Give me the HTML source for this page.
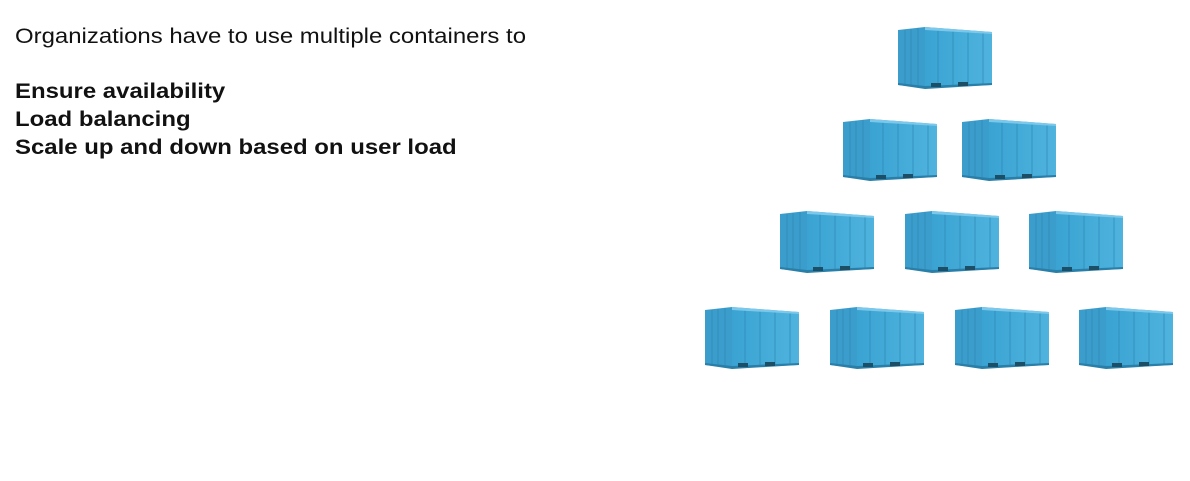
<!DOCTYPE html>
<html><head><meta charset="utf-8"><style>
body{margin:0;width:1190px;height:481px;background:#fff;overflow:hidden;position:relative;font-family:"Liberation Sans",Arial,sans-serif;color:#111}
.t{position:absolute;left:15px;font-size:21px;white-space:nowrap;transform:scaleX(1.14);transform-origin:0 0}
.b{font-weight:bold}
svg{position:absolute;left:0;top:0}
</style></head><body>
<div class="t" style="top:25px">Organizations have to use multiple containers to</div>
<div class="t b" style="top:80px">Ensure availability</div>
<div class="t b" style="top:108px">Load balancing</div>
<div class="t b" style="top:136px">Scale up and down based on user load</div>
<svg width="1190" height="481">
<defs>
<linearGradient id="s" x1="0" x2="1"><stop offset="0" stop-color="#3aa3d2"/><stop offset="1" stop-color="#4fb3de"/></linearGradient>
<g id="c">
<polygon points="0,3 27,0 27,61 0,58" fill="#3b9dcb"/>
<polygon points="27,0 94,5 94,58 27,61" fill="url(#s)"/>
<g stroke="#2c87b5" stroke-width="1" opacity="0.7">
<line x1="7" y1="3" x2="7" y2="57"/><line x1="13" y1="2" x2="13" y2="58"/><line x1="20" y1="1" x2="20" y2="59"/>
<line x1="40" y1="2" x2="40" y2="60"/><line x1="55" y1="3" x2="55" y2="59"/><line x1="70" y1="4" x2="70" y2="59"/><line x1="85" y1="5" x2="85" y2="58"/>
</g>
<polygon points="27,0 94,5 94,7 27,3" fill="#7cc8ea"/>
<polygon points="0,56 27,59 94,56 94,58 27,62 0,58" fill="#2a7fa8"/>
<rect x="33" y="56" width="10" height="4" fill="#1c4e66"/><rect x="60" y="55" width="10" height="4" fill="#1c4e66"/>
</g>
</defs>
<use href="#c" x="898" y="27"/>
<use href="#c" x="843" y="119"/><use href="#c" x="962" y="119"/>
<use href="#c" x="780" y="211"/><use href="#c" x="905" y="211"/><use href="#c" x="1029" y="211"/>
<use href="#c" x="705" y="307"/><use href="#c" x="830" y="307"/><use href="#c" x="955" y="307"/><use href="#c" x="1079" y="307"/>
</svg>
</body></html>
